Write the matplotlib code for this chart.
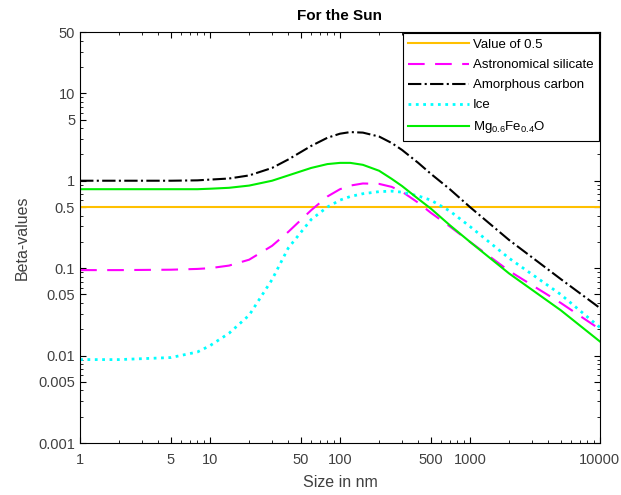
import numpy as np
import matplotlib
matplotlib.use("Agg")
import matplotlib.pyplot as plt
from matplotlib.ticker import FixedLocator, FixedFormatter

plt.rcParams['font.family'] = ['Liberation Sans', 'DejaVu Sans']
plt.rcParams['mathtext.default'] = 'regular'

# grain sizes (nm) and beta values
size = [1, 2, 5, 8, 10, 14, 20, 30, 40, 60, 80, 100, 120, 150, 200, 250, 300, 400,
        500, 700, 1000, 2000, 5000, 10000]
carbon = [1.0, 1.0, 1.0, 1.01, 1.03, 1.06, 1.15, 1.4, 1.75, 2.5, 3.1, 3.45, 3.6,
          3.55, 3.2, 2.7, 2.25, 1.6, 1.2, 0.8, 0.5, 0.21, 0.075, 0.035]
mgfeo = [0.8, 0.8, 0.8, 0.8, 0.81, 0.83, 0.88, 1.0, 1.15, 1.4, 1.55, 1.6, 1.6,
         1.52, 1.3, 1.05, 0.87, 0.62, 0.48, 0.31, 0.2, 0.087, 0.033, 0.0145]
silicate = [0.095, 0.095, 0.096, 0.098, 0.1, 0.107, 0.125, 0.18, 0.26, 0.46, 0.66,
            0.8, 0.88, 0.93, 0.92, 0.85, 0.75, 0.56, 0.43, 0.3, 0.2, 0.093, 0.04, 0.02]
ice = [0.009, 0.009, 0.0095, 0.011, 0.013, 0.018, 0.029, 0.074, 0.17, 0.36, 0.5,
       0.6, 0.66, 0.71, 0.75, 0.76, 0.74, 0.67, 0.6, 0.45, 0.3, 0.13, 0.05, 0.021]
half = 0.5

xticks = [1, 5, 10, 50, 100, 500, 1000, 10000]
yticks = [0.001, 0.005, 0.01, 0.05, 0.1, 0.5, 1, 5, 10, 50]

fig = plt.figure(figsize=(6.21, 4.95), dpi=100)
ax = fig.add_axes([0.129, 0.105, 0.837, 0.83])

ax.plot([size[0], size[-1]], [half, half], color='#FFC000', lw=1.5, label='Value of 0.5')
ax.plot(size, silicate, color='#FF00FF', lw=1.5, ls=(0, (8, 5)), label='Astronomical silicate')
ax.plot(size, carbon, color='black', lw=1.5, ls='-.', label='Amorphous carbon')
ax.plot(size, ice, color='#00FFFF', lw=2, ls=':', label='Ice')
ax.plot(size, mgfeo, color='#00EE00', lw=1.5, label=r'Mg$_{0.6}$Fe$_{0.4}$O')

ax.set_xscale('log')
ax.set_yscale('log')
ax.set_xlim(1, 10000)
ax.set_ylim(0.001, 50)
ax.xaxis.set_major_locator(FixedLocator(xticks))
ax.xaxis.set_major_formatter(FixedFormatter([str(t) for t in xticks]))
ax.yaxis.set_major_locator(FixedLocator(yticks))
ax.yaxis.set_major_formatter(FixedFormatter([f'{t:g}' for t in yticks]))
ax.tick_params(which='both', direction='in', top=True, right=True, labelsize=10.5,
               labelcolor='#404040')
ax.tick_params(axis='x', which='major', pad=7)
ax.tick_params(which='major', length=4)
ax.tick_params(which='minor', length=2)

ax.set_xlabel('Size in nm', fontsize=11.5, color='#404040', labelpad=6)
ax.set_ylabel('Beta-values', fontsize=11.5, color='#404040', labelpad=6)
ax.set_title('For the Sun', fontsize=11, fontweight='bold', pad=9)

leg = ax.legend(loc='upper right', fontsize=9.5, frameon=True, fancybox=False,
                framealpha=1, edgecolor='black', borderaxespad=0.1,
                handlelength=4.6, handletextpad=0.3, labelspacing=0.6, borderpad=0.4)
leg.get_frame().set_linewidth(0.8)

fig.savefig('out.png', dpi=100)
